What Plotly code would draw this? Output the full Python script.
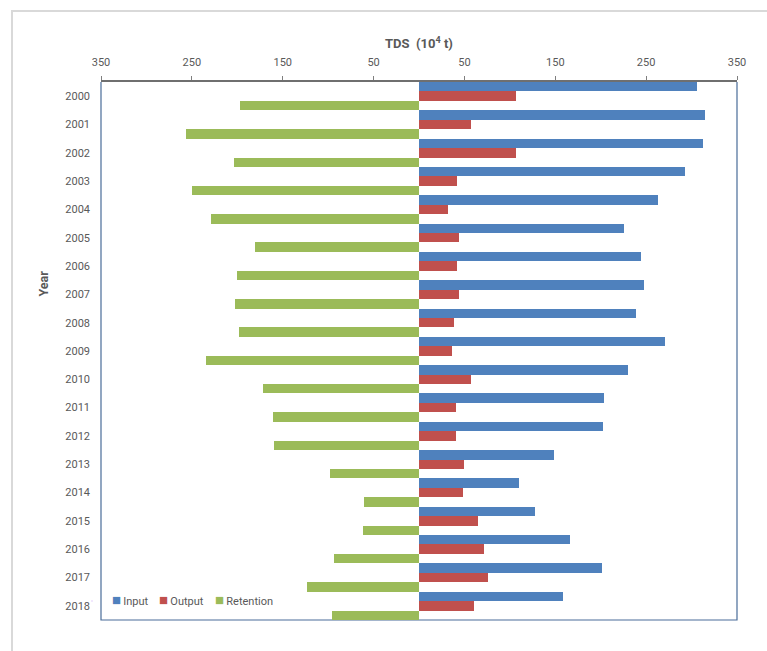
import plotly.graph_objects as go

# Annual TDS balance (10^4 t)
years = [str(y) for y in range(2000, 2019)]
input_tds = [306, 315, 313, 293, 263, 226, 244, 248, 239, 271, 230, 204, 203, 149, 110, 128, 166, 201, 158]
output_tds = [107, 57, 107, 42, 32, 44, 42, 44, 39, 36, 57, 41, 41, 50, 48, 65, 71, 76, 61]
retention_tds = [197, 257, 204, 250, 229, 181, 200, 203, 198, 234, 172, 161, 160, 98, 61, 62, 94, 123, 96]

series_names = ["Input", "Output", "Retention"]
series_colors = ["#4F81BD", "#C0504D", "#9BBB59"]

x_ticks = [-350, -250, -150, -50, 50, 150, 250, 350]
x_tick_text = [str(abs(v)) for v in x_ticks]

W, H = 767, 651
L, R, T, B = 101, 30, 82, 31
pw, ph = W - L - R, H - T - B


def px_x(x):
    return (x - L) / pw


def px_y(y):
    return (H - B - y) / ph


gray_txt = "#595959"
font_family = "Roboto, Arial, sans-serif"

fig = go.Figure()
values = [input_tds, output_tds, [-v for v in retention_tds]]
for name, color, vals in zip(series_names, series_colors, values):
    fig.add_trace(go.Bar(y=years, x=vals, name=name, orientation="h",
                         marker=dict(color=color, line=dict(width=0)),
                         showlegend=False))

# compact legend: one small legend per series, each with a small colour square
legend_ids = ["legend", "legend2", "legend3"]
legend_text_x = [112, 159, 215]
legend_layout = {}
for lid, name, color, tx in zip(legend_ids, series_names, series_colors, legend_text_x):
    fig.add_trace(go.Scatter(
        x=[None], y=[None], mode="markers", marker=dict(size=0, opacity=0),
        name=f"<span style='color:{color};font-size:15px'>■</span>\u2009{name}",
        legend=lid, showlegend=True, hoverinfo="skip"))
    legend_layout[lid] = dict(
        x=px_x(tx - 40), y=px_y(601), xanchor="left", yanchor="middle",
        orientation="h", bgcolor="rgba(0,0,0,0)", borderwidth=0,
        itemwidth=30, font=dict(size=11, color=gray_txt, family=font_family))

fig.update_layout(
    width=W, height=H,
    margin=dict(l=L, r=R, t=T, b=B),
    paper_bgcolor="white", plot_bgcolor="white",
    barmode="group", bargap=0, bargroupgap=0,
    font=dict(family=font_family, size=11, color=gray_txt),
    xaxis=dict(
        range=[-350, 350], side="top",
        tickmode="array", tickvals=x_ticks, ticktext=x_tick_text,
        ticks="outside", ticklen=4, tickcolor="#7f7f7f", tickwidth=1,
        showline=True, linecolor="#6f6f6f", linewidth=1.5,
        showgrid=False, zeroline=False,
        tickfont=dict(size=11, color=gray_txt),
        ticklabelstandoff=6,
        title=dict(text="<b>TDS</b>  <b>(10<sup>4</sup> t)</b>",
                   font=dict(size=13, color=gray_txt), standoff=4),
    ),
    yaxis=dict(
        type="category", range=[18.5, -0.5],
        showline=False, ticks="", showgrid=False, zeroline=False,
        tickfont=dict(size=11, color=gray_txt),
        ticklabelstandoff=10,
    ),
    yaxis2=dict(
        overlaying="y", anchor="free", position=0.5, side="left",
        range=[18.5, -0.5], tickmode="linear", tick0=0, dtick=0.5,
        ticks="outside", ticklen=4, tickcolor="black",
        showline=True, linecolor="black", linewidth=1,
        showticklabels=False, showgrid=False, zeroline=False,
    ),
    showlegend=True,
    **legend_layout,
)

# y-axis title
fig.add_annotation(text="<b>Year</b>", xref="paper", yref="paper",
                   x=px_x(33), y=px_y(284), showarrow=False, textangle=-90,
                   font=dict(size=12.5, color=gray_txt))

# plot-area border (left, bottom, right) and outer chart frame
fig.add_shape(type="path", xref="paper", yref="paper", path="M0,1 L0,0 L1,0 L1,1",
              line=dict(color="#4A6D99", width=1.2), layer="below")
fig.add_shape(type="rect", xref="paper", yref="paper",
              x0=px_x(12), x1=px_x(790), y0=px_y(680), y1=px_y(11),
              line=dict(color="#d9d9d9", width=2), layer="below")

fig.write_html("out.html")
